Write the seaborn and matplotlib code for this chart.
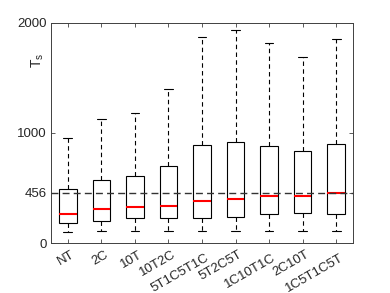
import matplotlib
matplotlib.use("Agg")
import matplotlib.pyplot as plt
import matplotlib.transforms as mtransforms
import seaborn as sns
import pandas as pd

categories = ['NT', '2C', '10T', '10T2C', '5T1C5T1C', '5T2C5T', '1C10T1C', '2C10T', '1C5T1C5T']
lower = [102, 106, 109, 109, 111, 109, 109, 109, 109]
q1 = [178, 202, 224, 224, 229, 232, 260, 269, 262]
median = [265, 310, 329, 335, 380, 398, 425, 425, 455]
q3 = [486, 573, 606, 697, 887, 916, 881, 835, 899]
upper = [956, 1128, 1179, 1400, 1867, 1934, 1813, 1686, 1849]
threshold = 456
yticks = [0, 456, 1000, 2000]

rows = []
for i, c in enumerate(categories):
    for v in (lower[i], q1[i], median[i], q3[i], upper[i]):
        rows.append({'cond': c, 'T': v})
df = pd.DataFrame(rows)

sns.set_theme(style='white')
plt.rcParams['font.family'] = ['Liberation Sans', 'DejaVu Sans']
plt.rcParams['mathtext.fontset'] = 'custom'
plt.rcParams['mathtext.rm'] = 'Liberation Sans'
plt.rcParams['mathtext.it'] = 'Liberation Sans'

fig = plt.figure(figsize=(3.9, 2.93), dpi=100)
ax = fig.add_axes([0.1308, 0.1706, 0.905 - 0.1308, 0.923 - 0.1706])

sns.boxplot(data=df, x='cond', y='T', order=categories, whis=(0, 100),
            width=0.52, color='white', linecolor='black', linewidth=0.8,
            medianprops=dict(color='red', linewidth=1.5),
            whiskerprops=dict(linestyle=(0, (4, 3))),
            showfliers=False, ax=ax)

ax.axhline(threshold, color='#333333', linestyle=(0, (5, 3)), linewidth=1.0, zorder=5)

ax.set_xlim(-0.5, len(categories) - 0.5)
ax.set_ylim(0, 2000)
ax.set_yticks(yticks)
ax.set_yticklabels([str(t) for t in yticks], fontsize=9.5, color='#262626')
ax.set_xticks(range(len(categories)))
ax.set_xticklabels([])
ax.tick_params(axis='both', direction='in', length=3, width=0.6, color='#404040',
               top=True, right=True, bottom=True, left=True, pad=3)

blend = mtransforms.blended_transform_factory(ax.transData, ax.transAxes)
for i, c in enumerate(categories):
    dy = -14 if len(c) >= 7 else -11
    tr = blend + mtransforms.ScaledTranslation(6 / 100, dy / 100, fig.dpi_scale_trans)
    ax.text(i, 0, c, transform=tr, rotation=30, ha='right', va='center',
            rotation_mode='anchor', fontsize=9.5, color='#262626')

for s in ax.spines.values():
    s.set_visible(True)
    s.set_color('#404040')
    s.set_linewidth(0.7)

ax.set_xlabel('')
ax.set_ylabel('T$_{\\rm s}$', fontsize=10, color='#262626')
ax.yaxis.set_label_coords(-0.015, 0.83)

fig.savefig('out.png', dpi=100)
